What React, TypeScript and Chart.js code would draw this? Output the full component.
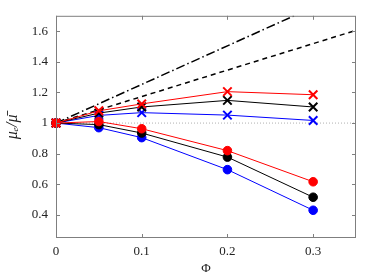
import React, { useEffect, useRef } from "react";
import { Chart, registerables } from "chart.js";

Chart.register(...registerables);

const phi = [0, 0.05, 0.1, 0.2, 0.3];
const redCross = [1, 1.08, 1.125, 1.205, 1.185];
const blackCross = [1, 1.065, 1.105, 1.148, 1.105];
const blueCross = [1, 1.05, 1.068, 1.052, 1.017];
const redCircle = [1, 1.01, 0.963, 0.82, 0.617];
const blackCircle = [1, 0.99, 0.935, 0.778, 0.516];
const blueCircle = [1, 0.97, 0.905, 0.696, 0.431];
const boundPhi = [0, 0.35];
const upperBound = [1, 1.882];
const lowerBound = [1, 1.605];
const referenceLine = [1, 1];
const xTicks = [0, 0.1, 0.2, 0.3];
const yTicks = [0.4, 0.6, 0.8, 1, 1.2, 1.4, 1.6];

const pts = (xs: number[], ys: number[]) => xs.map((x, i) => ({ x, y: ys[i] }));

const frameTicks = {
  id: "frameTicks",
  afterDatasetsDraw(chart: any) {
    const { ctx, chartArea: a, scales } = chart;
    const xs = scales.x;
    const ys = scales.y;
    ctx.save();
    ctx.strokeStyle = "#7f7f7f";
    ctx.lineWidth = 1;
    ctx.strokeRect(a.left + 0.5, a.top + 0.5, a.right - a.left - 1, a.bottom - a.top - 1);
    const L = 4;
    ctx.beginPath();
    xTicks.forEach((v) => {
      const px = Math.round(xs.getPixelForValue(v)) + 0.5;
      ctx.moveTo(px, a.bottom);
      ctx.lineTo(px, a.bottom - L);
      ctx.moveTo(px, a.top);
      ctx.lineTo(px, a.top + L);
    });
    yTicks.forEach((v) => {
      const py = Math.round(ys.getPixelForValue(v)) + 0.5;
      ctx.moveTo(a.left, py);
      ctx.lineTo(a.left + L, py);
      ctx.moveTo(a.right, py);
      ctx.lineTo(a.right - L, py);
    });
    ctx.stroke();
    ctx.restore();
  },
};

export default function App() {
  const ref = useRef<HTMLCanvasElement>(null);
  useEffect(() => {
    document.body.style.margin = "0";
    const font = { family: "'Liberation Serif', serif", size: 13 };
    const series = (data: number[], color: string, style: string, r: number) => ({
      data: pts(phi, data),
      borderColor: color,
      backgroundColor: color,
      borderWidth: 1,
      pointStyle: style,
      pointRadius: r,
      pointBorderWidth: style === "crossRot" ? 2 : 1,
      pointBackgroundColor: color,
      pointBorderColor: color,
      clip: false as any,
    });
    const chart = new Chart(ref.current!, {
      type: "line",
      data: {
        datasets: [
          series(redCross, "#ff0000", "crossRot", 6),
          series(redCircle, "#ff0000", "circle", 4.3),
          series(blackCross, "#000000", "crossRot", 6),
          series(blackCircle, "#000000", "circle", 4.3),
          series(blueCross, "#0000ff", "crossRot", 6),
          series(blueCircle, "#0000ff", "circle", 4.3),
          {
            data: pts(boundPhi, upperBound),
            borderColor: "#000",
            borderWidth: 1.5,
            borderDash: [9, 3, 1.5, 3],
            pointRadius: 0,
          },
          {
            data: pts(boundPhi, lowerBound),
            borderColor: "#000",
            borderWidth: 1.5,
            borderDash: [5, 4],
            pointRadius: 0,
          },
          {
            data: pts(boundPhi, referenceLine),
            borderColor: "#b0b0b0",
            borderWidth: 1,
            borderDash: [1, 2],
            pointRadius: 0,
          },
        ],
      },
      options: {
        animation: false,
        responsive: false,
        layout: { padding: { top: 14, right: 18, left: 0, bottom: 0 } },
        plugins: { legend: { display: false }, tooltip: { enabled: false } },
        scales: {
          x: {
            type: "linear",
            min: 0,
            max: 0.35,
            grid: { display: false, drawTicks: false },
            border: { display: false },
            afterBuildTicks: (s: any) => {
              s.ticks = xTicks.map((v) => ({ value: v }));
            },
            afterFit: (s: any) => {
              s.height = 42;
            },
            ticks: {
              font,
              color: "#222",
              padding: 6,
              maxRotation: 0,
              callback: (v: any) => (v === 0 ? "0" : Number(v).toFixed(1)),
            },
            title: { display: true, text: "Φ", font, color: "#222", padding: { top: 0, bottom: 4 } },
          },
          y: {
            type: "linear",
            min: 0.25,
            max: 1.7,
            grid: { display: false, drawTicks: false },
            border: { display: false },
            afterBuildTicks: (s: any) => {
              s.ticks = yTicks.map((v) => ({ value: v }));
            },
            afterFit: (s: any) => {
              s.width = 56;
            },
            ticks: {
              font,
              color: "#222",
              padding: 8,
              callback: (v: any) => (Math.abs(v - 1) < 1e-9 ? "1" : Number(v).toFixed(1)),
            },
            title: {
              display: true,
              text: "μₑ/μ̄",
              font: { family: "'Liberation Serif', serif", size: 16, style: "italic" },
              color: "#222",
              padding: { top: 3, bottom: 0 },
            },
          },
        },
      },
      plugins: [frameTicks],
    });
    return () => chart.destroy();
  }, []);
  return (
    <div style={{ position: "absolute", left: 0, top: 0, width: 374, height: 280 }}>
      <canvas ref={ref} width={374} height={280} style={{ width: 374, height: 280 }} />
    </div>
  );
}
